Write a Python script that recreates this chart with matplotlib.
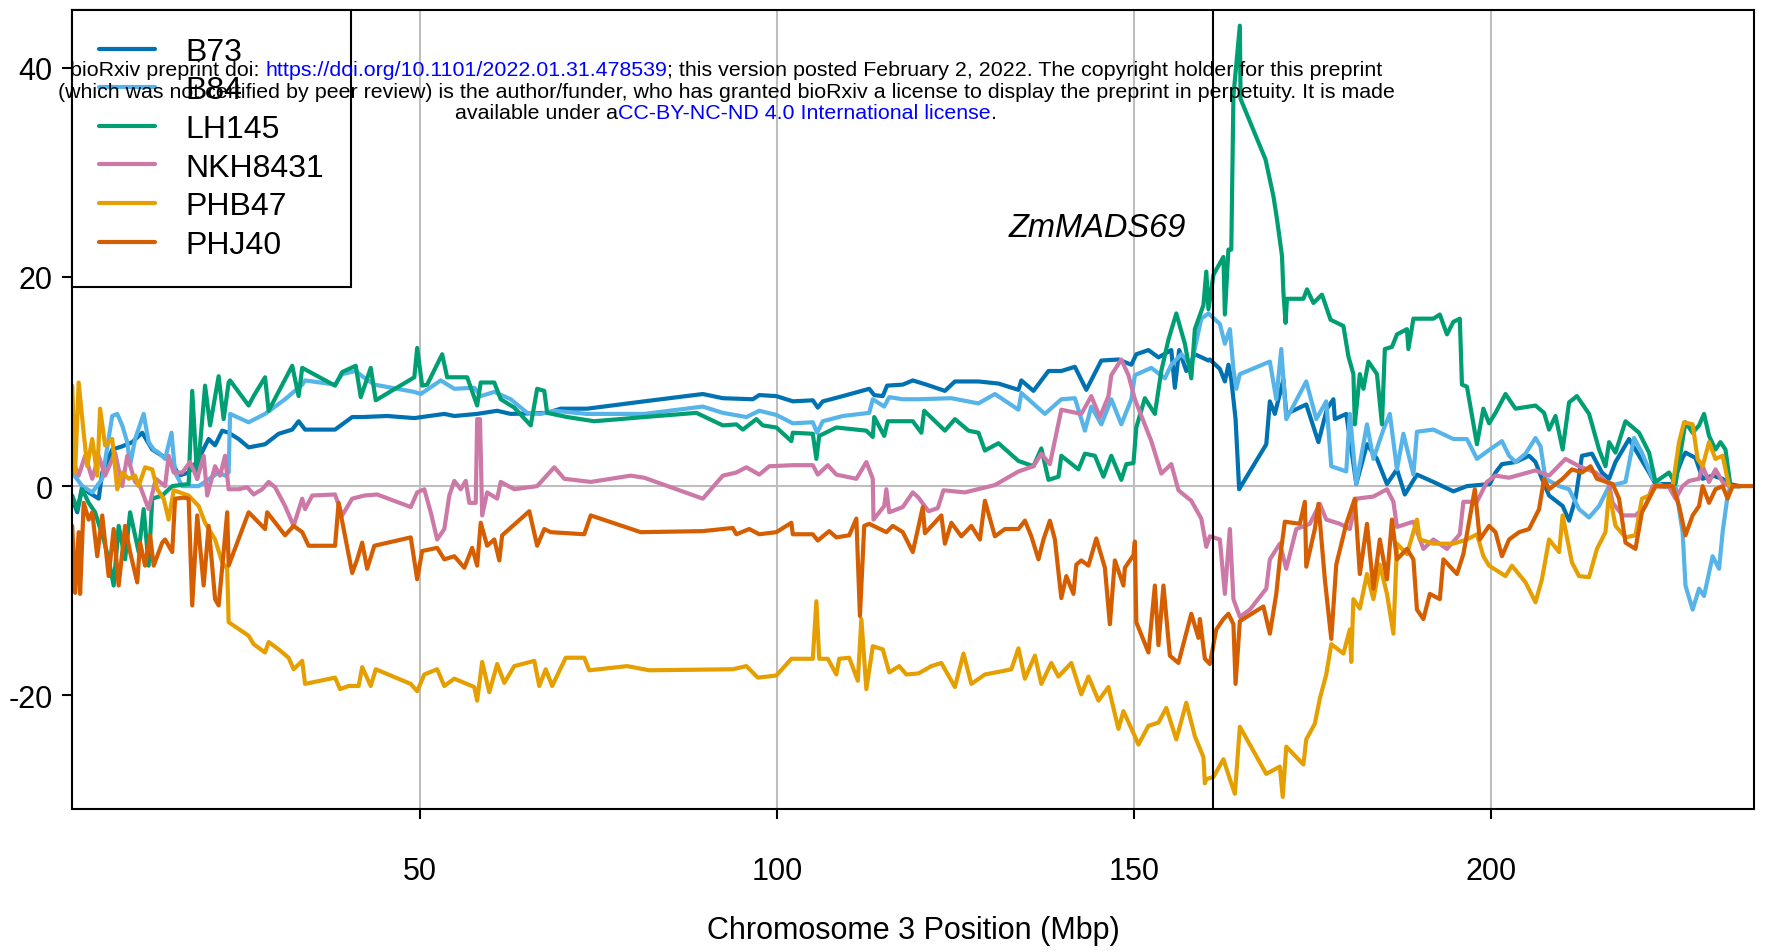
import matplotlib
matplotlib.use("Agg")
import matplotlib.pyplot as plt
from matplotlib.offsetbox import TextArea, HPacker, VPacker, AnnotationBbox

plt.rcParams['font.family'] = ['Liberation Sans', 'DejaVu Sans']
plt.rcParams['axes.unicode_minus'] = False

# (position Mbp, value)
b73 = [(1.3,-1.2),(2.0,-2.5),(2.7,0.0),(3.6,-0.6),(5.0,-1.2),(5.5,1.3),(6.9,3.5),(8.3,3.8),(9.7,4.2),(11.1,5.1),
       (12.5,3.5),(13.9,2.9),(15.3,2.3),(16.2,1.0),(17.6,1.3),(19.0,2.6),(20.4,4.5),(21.3,3.9),(22.3,5.3),(23.2,5.1),
       (24.6,4.5),(26.0,3.7),(28.3,4.0),(30.2,5.0),(32.1,5.4),(33.0,6.2),(33.9,5.4),(38.1,5.4),(39.1,5.9),(40.5,6.6),
       (41.9,6.6),(45.4,6.7),(49.2,6.5),(53.4,6.9),(54.8,6.7),(58.0,6.9),(60.8,7.2),(62.7,6.9),(67.8,7.0),(69.7,7.4),
       (73.4,7.4),(81.4,8.1),(89.6,8.8),(92.4,8.4),(96.6,8.3),(97.5,8.7),(99.9,8.6),(102.2,8.1),(105.0,8.2),(105.7,7.5),
       (106.4,8.1),(109.2,8.6),(112.9,9.3),(113.6,8.7),(114.8,8.6),(115.4,9.6),(117.6,9.7),(119.0,10.1),(120.9,9.7),
       (123.5,9.1),(124.9,10.0),(128.2,10.0),(131.0,9.8),(133.8,9.2),(134.2,10.1),(135.9,9.1),(138.0,11.0),(139.8,11.0),
       (141.7,11.4),(143.3,9.2),(145.4,12.0),(147.8,12.1),(149.6,11.6),(150.3,12.6),(152.0,13.0),(153.4,12.3),
       (155.2,13.0),(155.7,9.4),(156.3,13.0),(157.3,11.0),(158.5,12.6),(160.4,12.0),(160.6,12.1),(162.0,11.2),
       (162.7,10.0),(163.2,11.6),(163.6,10.2),(164.2,6.4),(164.7,-0.3),(168.5,4.0),(169.0,8.1),(169.7,6.9),(170.9,10.2),
       (171.3,6.9),(174.1,7.8),(175.8,4.2),(177.0,7.4),(177.9,8.3),(178.1,6.4),(179.7,6.9),(181.1,0.2),(182.6,4.0),
       (184.0,2.6),(185.4,0.2),(186.8,1.6),(187.9,-0.8),(189.6,1.1),(191.9,0.4),(194.7,-0.5),(196.6,0.0),(199.8,0.2),
       (200.6,1.3),(201.5,2.1),(203.4,2.3),(205.3,2.9),(206.2,2.3),(207.1,0.7),(208.1,-0.9),(210.0,-1.9),(210.9,-3.3),
       (211.8,-1.2),(212.7,2.9),(214.1,3.1),(215.5,1.3),(216.5,0.7),(217.4,2.3),(219.3,4.5),(220.7,2.9),(222.1,1.3),
       (223.0,0.2),(225.4,0.2),(226.8,2.7),(227.2,3.2),(228.6,2.7),(229.6,0.7),(231.0,1.0),(232.4,0.7),(233.3,0.2),
       (234.8,0.0)]

b84 = [(1.3,1.3),(2.7,0.0),(4.1,-0.6),(5.5,0.7),(6.9,6.7),(7.6,6.9),(8.3,5.8),(9.0,4.2),(9.4,2.0),(10.1,4.5),
       (11.3,6.9),(12.0,4.2),(12.7,3.5),(13.4,3.2),(14.3,2.6),(15.2,5.1),(15.7,1.3),(16.7,0.0),(19.0,0.0),(21.8,1.3),
       (22.7,1.0),(23.2,1.3),(23.4,6.9),(26.0,6.1),(28.3,6.9),(31.1,8.3),(33.5,9.7),(33.9,10.1),(38.1,9.7),(39.1,10.7),
       (41.0,11.0),(41.9,10.5),(43.6,9.7),(49.2,9.0),(50.1,8.8),(52.9,10.1),(54.8,9.3),(57.6,9.4),(58.5,8.6),(60.4,9.0),
       (62.7,8.3),(65.0,7.0),(66.9,6.9),(68.8,7.2),(73.4,6.9),(81.4,6.9),(89.6,7.6),(92.4,7.0),(95.7,6.6),(97.5,7.2),
       (99.9,6.8),(102.2,6.0),(105.0,6.1),(105.6,5.1),(106.4,6.2),(109.2,6.7),(112.9,7.0),(113.4,8.3),(115.0,7.6),
       (115.7,8.5),(117.6,8.3),(119.8,8.3),(124.4,8.4),(128.2,7.9),(130.5,8.8),(133.8,7.3),(134.2,8.9),(137.5,6.9),
       (139.8,8.3),(141.7,8.4),(143.1,5.3),(144.0,7.6),(145.4,5.9),(146.8,8.3),(148.2,5.9),(149.6,8.3),(150.1,10.6),
       (152.4,11.3),(154.3,10.3),(155.2,11.6),(156.6,12.6),(158.0,11.6),(159.4,16.0),(160.4,16.5),(162.0,15.5),
       (162.7,13.6),(163.4,15.0),(163.9,11.2),(164.3,9.3),(164.8,10.7),(169.0,11.9),(169.9,8.3),(170.6,13.1),
       (171.3,6.4),(174.1,10.0),(175.5,6.4),(176.9,8.1),(177.6,1.9),(179.7,1.4),(180.2,6.9),(181.1,0.2),(182.6,5.9),
       (183.5,2.6),(184.9,5.4),(185.8,6.9),(186.8,1.6),(187.7,5.0),(189.1,1.1),(189.6,5.2),(191.9,5.4),(194.7,4.5),
       (196.6,4.5),(198.0,2.6),(199.8,3.5),(201.5,4.3),(202.5,2.9),(203.4,2.3),(204.8,3.1),(206.2,4.6),(206.9,3.8),
       (207.6,0.7),(209.5,0.0),(210.9,-0.3),(212.3,-2.2),(213.7,-3.0),(215.1,-1.9),(216.5,0.0),(218.8,0.4),(220.0,4.6),
       (221.1,3.2),(222.6,0.7),(224.0,0.0),(225.8,0.0),(226.8,-4.4),(227.2,-9.5),(228.2,-11.8),(229.1,-9.8),
       (229.8,-10.5),(231.0,-6.7),(231.9,-7.9),(232.4,-4.4),(233.1,-0.9),(233.5,0.0),(235.0,0.0)]

lh145 = [(1.3,-0.9),(2.0,-2.2),(2.7,-0.3),(3.6,-1.6),(4.5,-2.5),(5.7,-5.1),(6.4,-7.0),(7.1,-9.5),(7.8,-3.8),(8.7,-7.0),
         (9.4,-2.5),(10.6,-6.3),(11.3,-2.2),(12.0,-7.6),(12.5,-1.2),(13.9,-0.9),(15.3,0.0),(17.6,0.2),(18.1,9.1),
         (18.8,0.7),(19.9,9.6),(20.6,5.8),(21.8,10.5),(22.5,6.4),(23.2,9.9),(23.4,10.1),(26.0,7.7),(26.7,8.6),
         (28.3,10.4),(28.8,7.2),(31.1,10.2),(32.1,11.5),(33.0,8.6),(33.5,11.3),(38.1,9.6),(39.1,10.9),(41.0,11.5),
         (41.7,8.5),(43.1,11.3),(43.8,8.2),(49.2,10.4),(49.6,13.2),(50.3,9.6),(51.0,9.7),(53.1,12.6),(53.8,10.4),
         (56.6,10.4),(58.0,7.7),(58.5,9.9),(60.4,9.9),(61.3,8.3),(63.2,7.5),(65.5,5.8),(66.4,9.3),(67.4,9.1),(67.8,7.0),
         (70.6,6.6),(74.4,6.2),(81.4,6.6),(88.7,7.0),(92.4,5.8),(94.3,5.9),(95.2,5.4),(97.1,6.4),(98.0,5.8),(99.9,5.6),
         (102.0,4.3),(102.2,5.1),(105.0,5.0),(105.5,2.6),(105.9,4.8),(108.3,5.6),(112.5,5.3),(113.4,4.7),(113.6,6.6),
         (115.0,4.8),(115.5,6.2),(119.0,6.2),(120.2,5.1),(120.6,7.2),(123.5,5.3),(124.9,6.4),(126.8,5.3),(128.2,5.1),
         (129.1,3.4),(131.0,4.1),(133.8,2.4),(135.9,1.9),(137.0,3.6),(138.0,0.6),(139.4,0.9),(139.8,2.9),(142.2,1.6),
         (143.1,3.1),(144.5,2.9),(145.7,0.9),(146.8,2.9),(148.2,0.6),(148.9,2.1),(149.9,2.2),(150.3,5.6),(151.5,8.4),
         (152.9,6.9),(153.8,11.0),(154.8,14.0),(155.9,16.5),(157.1,13.6),(158.0,10.3),(158.5,15.0),(159.7,17.3),
         (160.1,20.5),(160.4,16.9),(161.1,20.2),(162.5,21.9),(162.7,16.4),(163.2,22.6),(163.6,22.6),(163.9,37.3),
         (164.8,44.0),(164.9,37.0),(168.4,31.2),(169.5,27.7),(170.0,25.5),(170.7,22.0),(170.9,18.5),(171.2,15.6),
         (171.4,17.9),(173.7,17.9),(174.2,18.8),(175.1,17.5),(176.3,18.3),(177.5,15.9),(179.3,15.3),(180.0,12.4),
         (180.7,10.7),(180.9,5.9),(181.6,10.7),(182.1,9.3),(182.8,11.9),(184.0,10.7),(184.7,5.9),(185.1,13.1),
         (186.1,13.3),(186.8,14.5),(188.2,15.0),(188.4,13.1),(189.1,16.0),(191.9,16.0),(192.8,16.4),(193.8,14.5),
         (194.7,15.7),(195.6,16.0),(195.9,9.7),(196.6,9.5),(198.0,4.0),(198.9,7.4),(199.7,6.0),(200.6,7.0),(202.0,8.8),
         (203.4,7.4),(206.2,7.7),(207.4,7.0),(208.1,5.4),(209.0,6.7),(210.0,3.5),(210.9,8.0),(212.0,8.6),(213.7,6.9),
         (215.1,3.5),(216.0,1.9),(216.5,4.2),(217.4,3.2),(218.8,6.2),(220.7,5.1),(222.1,3.2),(223.0,0.4),(224.9,1.3),
         (225.8,0.2),(227.2,6.1),(228.2,5.1),(229.1,5.8),(229.8,6.9),(230.5,4.8),(231.4,3.5),(232.1,4.2),(232.8,3.5),
         (233.5,0.0),(234.8,0.0)]

nkh8431 = [(1.3,2.6),(2.2,1.0),(3.1,2.9),(4.1,0.7),(5.0,2.9),(5.9,1.0),(7.3,3.2),(8.3,0.0),(9.0,2.9),(10.1,0.4),
           (10.8,0.0),(12.0,-2.2),(13.0,0.7),(14.3,0.0),(14.8,2.9),(15.5,1.3),(16.7,1.3),(17.8,2.3),(18.8,0.7),
           (19.7,2.9),(20.2,-0.9),(21.3,1.9),(22.0,1.0),(22.7,2.9),(23.2,-0.3),(24.6,-0.3),(25.8,-0.1),(26.7,-0.8),
           (27.9,-0.3),(28.8,0.4),(29.7,-0.1),(31.1,-1.9),(32.3,-3.8),(33.5,-1.2),(33.9,-2.2),(34.9,-0.9),(38.1,-0.8),
           (39.1,-2.8),(40.5,-1.2),(42.2,-0.9),(44.0,-0.8),(48.7,-2.0),(49.6,-0.6),(50.6,-0.3),(51.5,-2.5),(52.4,-5.1),
           (53.4,-4.1),(54.1,-0.9),(54.8,0.5),(55.7,-0.3),(56.4,0.5),(56.9,-1.6),(57.8,-1.6),(58.0,6.4),(58.4,6.4),
           (58.7,-2.8),(59.4,-0.6),(60.8,-1.2),(61.3,0.4),(63.2,-0.3),(66.4,0.0),(68.8,1.8),(70.2,0.7),(73.9,0.4),
           (79.5,1.0),(81.4,0.8),(89.6,-1.2),(92.4,1.0),(94.3,1.3),(95.7,1.8),(97.5,1.1),(98.9,1.9),(102.2,2.0),
           (105.0,2.0),(105.7,1.1),(107.1,2.0),(108.3,1.1),(111.1,0.7),(112.5,2.3),(113.4,0.7),(113.5,-3.2),(115.0,-1.9),
           (115.3,-0.3),(115.7,-2.5),(117.6,-2.0),(119.0,-0.6),(119.8,-1.1),(121.2,-2.4),(122.5,-2.1),(123.3,-0.4),
           (126.3,-0.6),(130.5,0.1),(133.8,1.4),(135.9,1.9),(137.0,3.1),(138.2,2.1),(139.8,7.3),(142.6,6.9),(144.0,8.6),
           (145.2,6.6),(146.4,8.6),(146.8,10.6),(148.2,12.1),(149.2,10.6),(150.1,8.3),(152.4,4.3),(153.8,1.2),
           (155.2,2.1),(156.2,-0.4),(158.0,-1.4),(159.4,-3.1),(160.1,-5.8),(160.6,-4.8),(162.0,-5.1),(162.7,-10.3),
           (163.4,-4.1),(163.9,-10.8),(164.8,-12.5),(166.2,-11.8),(168.5,-9.8),(169.0,-7.0),(170.4,-5.5),(171.3,-7.9),
           (172.7,-4.1),(174.6,-3.6),(176.0,-1.7),(176.9,-3.2),(178.8,-3.6),(180.2,-4.1),(181.1,-1.2),(183.5,-1.0),
           (185.4,-0.3),(186.3,-1.5),(186.8,-3.9),(189.1,-3.4),(190.5,-6.0),(191.9,-5.1),(193.8,-6.0),(195.6,-4.6),
           (196.1,-1.5),(198.0,-1.5),(199.4,0.4),(200.6,1.0),(202.5,0.8),(206.2,1.5),(208.1,1.0),(210.4,2.6),(212.3,1.9),
           (214.6,1.3),(216.5,0.2),(217.0,-1.6),(218.4,-2.8),(220.2,-2.8),(221.6,-1.9),(222.6,0.0),(224.9,-0.1),
           (225.8,-1.2),(226.8,0.0),(227.7,0.5),(229.1,0.7),(229.6,1.9),(230.5,0.4),(231.4,1.6),(232.4,0.4),(233.3,0.0),
           (234.8,0.0)]

phb47 = [(1.3,9.6),(1.7,1.3),(2.2,9.9),(2.9,5.1),(3.4,1.9),(4.1,4.5),(4.8,1.0),(5.2,7.4),(5.9,3.9),(6.9,4.5),
         (7.6,-0.3),(8.3,1.3),(9.2,0.7),(10.1,1.0),(10.6,0.0),(11.5,1.8),(12.5,1.6),(13.2,-0.3),(14.1,-1.2),(14.8,-3.2),
         (15.5,-0.4),(17.6,-0.9),(19.0,-1.9),(19.9,-3.5),(21.3,-5.1),(22.3,-7.3),(23.0,-7.9),(23.2,-13.0),(26.0,-14.3),
         (26.7,-15.1),(28.3,-15.9),(28.8,-14.9),(30.2,-15.6),(31.6,-16.4),(32.3,-17.5),(33.5,-16.7),(33.9,-18.9),
         (38.1,-18.3),(38.8,-19.4),(40.0,-19.1),(41.4,-19.1),(41.9,-17.3),(43.1,-19.1),(43.8,-17.5),(48.7,-18.9),
         (49.6,-19.6),(50.6,-18.0),(52.4,-17.5),(53.4,-19.1),(54.8,-18.4),(56.2,-18.8),(57.6,-19.2),(58.0,-20.5),
         (58.7,-16.8),(59.7,-19.7),(60.8,-17.0),(61.8,-18.8),(63.2,-17.2),(66.0,-16.7),(66.7,-19.1),(67.6,-17.5),
         (68.5,-19.1),(70.4,-16.4),(73.0,-16.4),(73.7,-17.6),(79.0,-17.2),(82.1,-17.6),(93.8,-17.5),(95.7,-17.2),
         (97.3,-18.3),(99.9,-18.1),(102.0,-16.5),(105.0,-16.5),(105.5,-11.0),(105.9,-16.5),(107.1,-16.5),(108.3,-18.0),
         (108.7,-16.5),(110.1,-16.4),(111.3,-18.6),(111.8,-12.7),(112.5,-19.4),(113.4,-15.3),(114.8,-15.6),
         (115.7,-17.8),(117.1,-17.2),(118.1,-18.0),(119.8,-17.9),(121.6,-17.2),(123.0,-16.9),(124.9,-19.2),
         (126.1,-16.0),(127.2,-18.9),(129.1,-18.0),(131.4,-17.7),(132.8,-17.5),(133.8,-15.5),(134.7,-18.4),
         (136.1,-16.2),(137.0,-18.9),(138.4,-16.9),(139.4,-18.2),(141.2,-16.9),(142.6,-19.9),(143.6,-18.2),
         (145.0,-20.5),(146.4,-19.2),(147.8,-23.2),(148.5,-21.5),(149.9,-23.6),(150.6,-24.7),(152.0,-22.9),
         (153.4,-22.6),(154.5,-21.2),(155.9,-24.2),(157.3,-20.7),(158.5,-23.9),(159.7,-25.9),(159.9,-28.4),
         (160.1,-28.0),(161.1,-27.8),(162.5,-26.1),(163.4,-28.0),(164.1,-29.4),(164.8,-23.0),(168.5,-27.5),
         (170.4,-26.8),(170.8,-29.7),(171.3,-24.9),(173.7,-26.6),(174.1,-24.2),(175.3,-22.7),(176.0,-20.3),
         (176.9,-18.0),(177.6,-15.1),(179.3,-16.0),(180.2,-13.7),(180.4,-16.8),(180.7,-10.8),(181.6,-11.7),
         (182.6,-8.4),(183.5,-10.8),(184.4,-7.5),(185.4,-10.3),(186.3,-14.1),(186.8,-5.5),(188.2,-6.5),(189.6,-3.2),
         (190.0,-5.1),(191.9,-5.5),(194.7,-5.5),(196.6,-5.1),(198.0,-4.6),(198.9,-6.7),(199.7,-7.6),(202.0,-8.6),
         (202.9,-7.6),(204.8,-9.2),(206.2,-11.1),(207.1,-8.9),(208.1,-5.1),(209.5,-6.3),(210.0,-2.8),(211.3,-7.3),
         (212.3,-8.6),(213.7,-8.7),(214.8,-6.0),(216.0,-4.4),(216.5,-0.6),(217.4,-3.8),(218.8,-4.9),(220.2,-4.7),
         (221.1,-1.2),(222.1,-0.9),(223.0,0.0),(225.4,0.0),(226.3,4.2),(227.0,6.1),(228.2,5.9),(228.9,2.6),
         (229.6,1.9),(230.5,4.2),(231.4,2.6),(232.4,2.9),(233.3,0.0),(234.8,0.0)]

phj40 = [(1.3,-3.8),(1.7,-10.2),(2.2,-4.4),(2.4,-10.3),(2.9,-1.6),(3.6,-3.2),(4.1,-2.5),(4.8,-6.7),(5.5,-2.8),
         (6.4,-8.6),(7.1,-4.1),(7.8,-9.5),(8.7,-3.8),(9.4,-6.3),(10.4,-9.2),(10.8,-5.4),(11.5,-7.6),(12.2,-4.7),
         (12.7,-7.6),(13.9,-5.4),(14.3,-5.1),(15.3,-6.3),(15.7,-1.2),(16.9,-1.1),(17.6,-1.2),(18.1,-11.4),(18.8,-2.8),
         (19.7,-9.5),(20.4,-3.8),(21.3,-10.8),(21.8,-11.4),(22.5,-6.3),(23.0,-2.5),(23.2,-7.6),(26.0,-2.5),(28.3,-4.1),
         (28.6,-2.5),(31.1,-4.7),(32.3,-3.8),(33.5,-4.4),(34.4,-5.7),(38.1,-5.7),(38.6,-1.6),(40.5,-8.3),(41.2,-7.0),
         (41.9,-5.4),(42.6,-7.9),(43.6,-5.7),(48.7,-4.9),(49.6,-8.9),(50.3,-6.2),(52.4,-5.9),(53.4,-7.0),(54.8,-6.7),
         (56.2,-7.8),(57.3,-5.9),(58.0,-7.6),(58.5,-3.5),(59.4,-5.7),(60.4,-5.1),(61.1,-7.1),(61.5,-4.7),(65.3,-2.4),
         (66.4,-5.7),(67.4,-4.1),(68.3,-4.4),(73.0,-4.6),(73.9,-2.8),(80.9,-4.4),(89.6,-4.3),(93.8,-4.0),(94.3,-4.6),
         (96.1,-4.1),(97.5,-4.6),(99.9,-4.4),(102.0,-3.5),(102.2,-4.6),(105.0,-4.6),(105.7,-5.2),(107.3,-4.3),
         (108.3,-4.9),(110.1,-4.7),(111.1,-3.1),(111.6,-12.4),(112.2,-3.8),(112.9,-3.6),(115.3,-4.4),(116.2,-3.8),
         (117.6,-4.4),(119.0,-6.3),(120.4,-2.0),(120.7,-4.5),(123.0,-2.8),(123.5,-5.5),(124.4,-3.5),(125.8,-4.8),
         (127.2,-3.8),(128.4,-5.1),(129.1,-1.4),(130.5,-4.8),(131.9,-4.1),(133.8,-4.1),(134.7,-3.3),(135.6,-4.8),
         (136.6,-7.0),(137.3,-5.1),(138.2,-3.3),(138.9,-5.1),(139.8,-10.7),(140.5,-8.6),(141.5,-10.3),(141.9,-7.5),
         (142.6,-7.1),(143.6,-7.6),(144.7,-5.0),(145.9,-7.8),(146.6,-13.2),(147.3,-7.1),(148.5,-9.5),(148.7,-7.8),
         (149.9,-6.6),(150.1,-5.3),(150.3,-13.0),(152.0,-15.9),(152.9,-9.5),(153.4,-15.2),(154.1,-9.5),(155.0,-16.2),
         (156.2,-16.9),(158.0,-12.2),(159.0,-14.5),(159.2,-12.7),(159.9,-16.5),(160.6,-17.0),(161.5,-13.7),
         (162.5,-12.7),(163.2,-12.2),(163.9,-13.2),(164.2,-18.9),(164.8,-12.9),(168.1,-11.5),(169.0,-14.1),
         (169.9,-10.3),(170.4,-7.0),(171.1,-3.4),(173.2,-3.6),(173.9,-1.5),(174.1,-7.7),(175.3,-4.1),(175.8,-1.7),
         (176.7,-8.9),(177.6,-14.6),(178.3,-7.5),(179.7,-3.6),(180.9,-1.2),(181.6,-8.4),(182.6,-3.6),(183.5,-9.8),
         (184.4,-5.1),(185.4,-8.9),(186.1,-3.2),(186.8,-7.0),(188.2,-6.0),(189.1,-7.0),(189.6,-11.8),(190.5,-12.7),
         (191.4,-10.3),(192.8,-10.8),(193.3,-7.0),(195.2,-8.4),(196.1,-6.5),(197.7,-0.3),(198.4,-5.1),(199.7,-3.8),
         (200.6,-4.4),(201.5,-6.7),(202.5,-5.1),(203.9,-4.4),(205.3,-4.1),(206.7,-2.2),(207.4,0.7),(208.1,-0.3),
         (210.0,0.7),(211.3,1.6),(212.7,1.3),(213.9,1.9),(214.8,0.7),(217.0,0.2),(217.9,-1.2),(218.8,-5.4),
         (220.2,-6.0),(221.1,-2.5),(222.1,-1.2),(223.0,0.0),(225.4,0.0),(226.3,-1.9),(227.2,-4.7),(228.2,-2.8),
         (229.1,-1.9),(229.6,0.0),(230.5,-1.6),(231.4,-0.3),(232.4,0.0),(233.1,-1.2),(233.8,0.0),(236.6,0.0)]

series = {"B73": b73, "B84": b84, "LH145": lh145, "NKH8431": nkh8431, "PHB47": phb47, "PHJ40": phj40}
colors = {"B73": "#0072B2", "B84": "#56B4E9", "LH145": "#009E73",
          "NKH8431": "#CC79A7", "PHB47": "#E69F00", "PHJ40": "#D55E00"}

x_ticks = [50, 100, 150, 200]
y_ticks = [-20, 0, 20, 40]
gene_pos = 161.1  # ZmMADS69

fig = plt.figure(figsize=(17.68, 9.53), dpi=100)
ax = fig.add_axes([0.0407, 0.1501, 0.9514, 0.8384])

for xv in x_ticks:
    ax.axvline(xv, color="#BEBEBE", lw=1.5, zorder=0)
ax.axhline(0, color="#BEBEBE", lw=1.5, zorder=0)

for name, pts in series.items():
    xs = [p[0] for p in pts]
    ys = [p[1] for p in pts]
    ax.plot(xs, ys, color=colors[name], lw=3.0, label=name,
            solid_joinstyle="round", solid_capstyle="round")

ax.axvline(gene_pos, color="black", lw=1.5, zorder=5)
ax.text(144.9, 24.7, "ZmMADS69", fontsize=23.5, style="italic", ha="center", va="center")

ax.set_xlim(1.26, 236.8)
ax.set_ylim(-30.85, 45.5)
ax.set_xticks(x_ticks)
ax.set_yticks(y_ticks)
ax.tick_params(axis="x", labelsize=22, length=7, width=1.5, pad=27)
ax.tick_params(axis="y", labelsize=22, length=7, width=1.5, pad=7)
for s in ax.spines.values():
    s.set_linewidth(1.5)
ax.set_xlabel("Chromosome 3 Position (Mbp)", fontsize=22, labelpad=21)

leg = ax.legend(loc="upper left", bbox_to_anchor=(0, 1), borderaxespad=0, fancybox=False,
                edgecolor="black", framealpha=1, fontsize=23, handlelength=1.77,
                handletextpad=0.95, borderpad=0.84, labelspacing=0.27)
leg.get_frame().set_linewidth(1.5)
for h in leg.get_lines():
    h.set_linewidth(3.0)

# bioRxiv watermark
fs = 15.4
blue = "#0000FF"
line1 = HPacker(children=[TextArea("bioRxiv preprint doi: ", textprops=dict(size=fs)),
                          TextArea("https://doi.org/10.1101/2022.01.31.478539", textprops=dict(size=fs, color=blue)),
                          TextArea("; this version posted February 2, 2022. The copyright holder for this preprint",
                                   textprops=dict(size=fs))], pad=0, sep=0)
line2 = TextArea("(which was not certified by peer review) is the author/funder, who has granted bioRxiv a license "
                 "to display the preprint in perpetuity. It is made", textprops=dict(size=fs))
line3 = HPacker(children=[TextArea("available under a", textprops=dict(size=fs)),
                          TextArea("CC-BY-NC-ND 4.0 International license", textprops=dict(size=fs, color=blue)),
                          TextArea(".", textprops=dict(size=fs))], pad=0, sep=0)
block = VPacker(children=[line1, line2, line3], align="center", pad=0, sep=2)
ab = AnnotationBbox(block, (726 / 1768, 1 - 92 / 953), xycoords="figure fraction",
                    box_alignment=(0.5, 0.5), frameon=False, zorder=10)
fig.add_artist(ab)

fig.savefig("out.png", dpi=100)
